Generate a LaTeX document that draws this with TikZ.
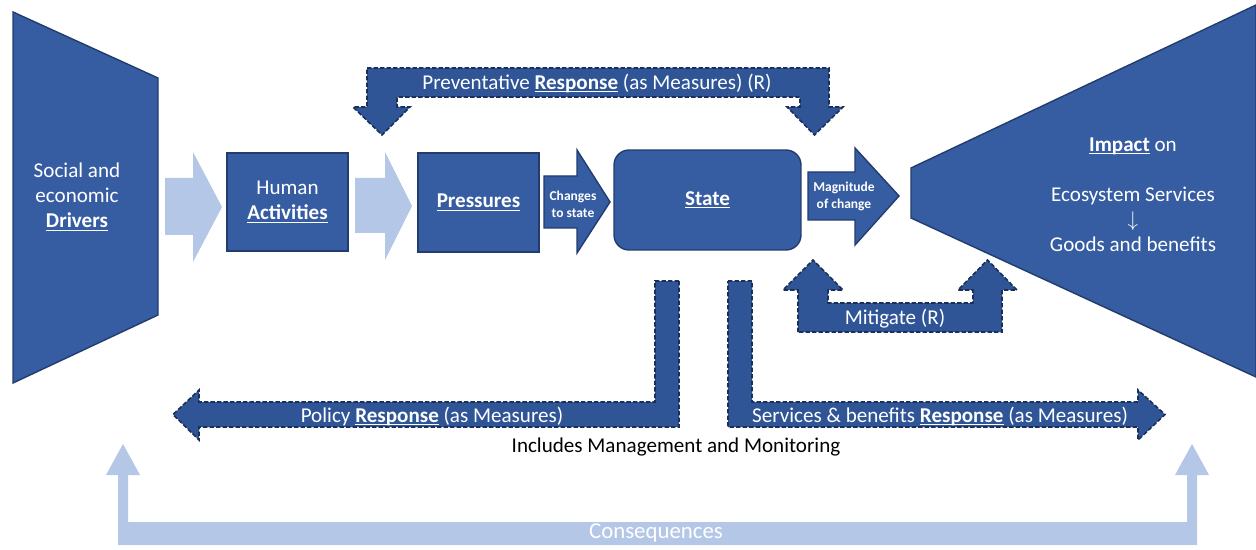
\documentclass[tikz,border=0pt]{standalone}
\usepackage{fontspec}
\setmainfont{Carlito}
\usepackage{xcolor}
\usepackage{tikz}
\usetikzlibrary{positioning, calc}

\definecolor{boxblue}{RGB}{54,92,162}
\definecolor{edgeblue}{RGB}{34,60,110}
\definecolor{respblue}{RGB}{47,85,151}
\definecolor{dashblue}{RGB}{26,48,90}
\definecolor{paleblue}{RGB}{180,199,231}
\newcommand{\undl}[1]{\setbox0\hbox{#1}\rlap{\rule[-1.6pt]{\wd0}{0.6pt}}\box0}

\begin{document}
\begin{tikzpicture}[x=0.02cm, y=-0.02cm,
    blk/.style={fill=boxblue, draw=edgeblue, line width=0.8pt},
    pale/.style={fill=paleblue, draw=none},
    resp/.style={fill=respblue, draw=dashblue, dash pattern=on 2.5pt off 1.2pt, line width=0.9pt},
    lbl/.style={align=center, text=white, font=\fontsize{12}{14.2}\selectfont},
    tinylbl/.style={align=center, text=white, font=\bfseries\fontsize{7.7}{9.6}\selectfont}]
    \useasboundingbox (0,0) rectangle (1256,550);

    % drivers and impact
    \draw[blk] (13,12) -- (158,78) -- (158,315) -- (13,383) -- cycle;
    \draw[blk] (911,168) -- (1256,5) -- (1256,377) -- (911,218) -- cycle;
    \node[lbl] (drivers) at (77,197) {Social and\\economic\\\textbf{\undl{Drivers}}};
    \node[lbl] (impact) at (1133,194.5) {\textbf{\undl{Impact}} on\\[14.2pt]Ecosystem Services\\$\downarrow$\\Goods and benefits};

    % chain
    \fill[pale] (165,178) -- (193,178) -- (193,152) -- (222,207) -- (193,262) -- (193,235) -- (165,235) -- cycle;
    \node[blk, lbl, minimum width=2.42cm, minimum height=1.96cm] (activities) at (287.5,202) {Human\\\textbf{\undl{Activities}}};
    \fill[pale] (355,178) -- (385,178) -- (385,152) -- (412,206) -- (385,260) -- (385,233) -- (355,233) -- cycle;
    \node[blk, lbl, minimum width=2.42cm, minimum height=1.98cm] (pressures) at (478.5,202.5) {\textbf{\undl{Pressures}}};
    \draw[blk] (544,176) -- (577,176) -- (577,150) -- (610,202) -- (577,253) -- (577,228) -- (544,228) -- cycle;
    \node[tinylbl] (changes) at (573,204) {Changes\\to state};
    \node[blk, lbl, rounded corners=0.3cm, minimum width=3.74cm, minimum height=2cm] (state) at (707.5,200) {\textbf{\undl{State}}};
    \draw[blk] (808,172) -- (855,172) -- (855,148) -- (899,196) -- (855,245) -- (855,220) -- (808,220) -- cycle;
    \node[tinylbl] (magnitude) at (844,196) {Magnitude\\of change};

    % responses
    \draw[resp] (367,68) -- (829,68) -- (829,107) -- (843,107) -- (814.5,135) -- (787,107) -- (800,107)
        -- (800,97) -- (397,97) -- (397,107) -- (410,107) -- (382,135) -- (353,107) -- (367,107) -- cycle;
    \node[lbl] (preventative) at (597,83) {Preventative \textbf{\undl{Response}} (as Measures) (R)};

    \draw[resp] (798,332) -- (798,290) -- (783,290) -- (813,260) -- (843,290) -- (828,290) -- (828,303)
        -- (973,303) -- (973,290) -- (958,290) -- (987.5,260) -- (1017,290) -- (1002,290) -- (1002,332) -- cycle;
    \node[lbl] (mitigate) at (895,319) {Mitigate (R)};

    \draw[resp] (679,281) -- (679,427) -- (199,427) -- (199,440) -- (173,414.5) -- (199,390) -- (199,402)
        -- (655,402) -- (655,281) -- cycle;
    \node[lbl] (policy) at (432,416) {Policy \textbf{\undl{Response}} (as Measures)};

    \draw[resp] (728,281) -- (752,281) -- (752,402) -- (1138,402) -- (1138,390) -- (1165,414.5) -- (1138,440)
        -- (1138,427) -- (728,427) -- cycle;
    \node[lbl] (services) at (940,416) {Services \& benefits \textbf{\undl{Response}} (as Measures)};

    \node[align=center, font=\fontsize{12}{14.2}\selectfont] (monitoring) at (676,447) {Includes Management and Monitoring};

    % consequences
    \fill[pale] (118,545) -- (118,475) -- (106,475) -- (123,444) -- (140,475) -- (128,475) -- (128,522)
        -- (1187,522) -- (1187,475) -- (1175,475) -- (1192,444) -- (1209,475) -- (1197,475) -- (1197,545) -- cycle;
    \node[lbl, font=\fontsize{13}{15}\selectfont] (consequences) at (656,533) {Consequences};
\end{tikzpicture}
\end{document}
